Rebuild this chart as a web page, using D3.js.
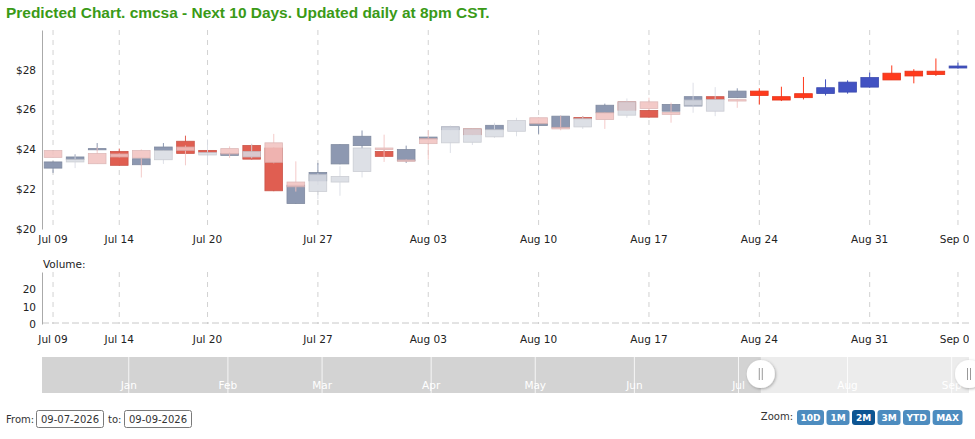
<!DOCTYPE html>
<html>
<head>
<meta charset="utf-8">
<script src="https://cdn.jsdelivr.net/npm/d3@7"></script>
<style>
html, body { margin: 0; padding: 0; background: #fff; overflow: hidden; }
svg { display: block; font-family: "DejaVu Sans", Verdana, sans-serif; }
</style>
</head>
<body>
<div id="chart"></div>
<script>
// trading days shown in the main panels
var historyDates = ["2026-07-09","2026-07-10","2026-07-13","2026-07-14","2026-07-15","2026-07-16","2026-07-17",
    "2026-07-20","2026-07-21","2026-07-22","2026-07-23","2026-07-24","2026-07-27","2026-07-28","2026-07-29",
    "2026-07-30","2026-07-31","2026-08-03","2026-08-04","2026-08-05","2026-08-06","2026-08-07","2026-08-10",
    "2026-08-11","2026-08-12","2026-08-13","2026-08-14","2026-08-17","2026-08-18","2026-08-19","2026-08-20",
    "2026-08-21"];
var forecastDates = ["2026-08-24","2026-08-25","2026-08-26","2026-08-27","2026-08-28","2026-08-31",
    "2026-09-01","2026-09-02","2026-09-03","2026-09-04"];

// [open, high, low, close]
var actual = [
    [23.06,23.40,22.82,23.37],[23.50,23.75,23.45,23.62],[23.98,24.32,23.95,24.04],[23.90,24.04,23.18,23.20],
    [23.23,23.55,23.20,23.53],[23.95,24.32,23.93,24.12],[24.41,24.69,23.78,23.80],[23.95,23.97,23.84,23.85],
    [23.70,23.85,23.66,23.80],[24.20,24.24,23.49,23.51],[24.07,24.10,21.90,21.92],[21.28,22.20,21.26,22.20],
    [22.42,23.32,22.40,22.84],[23.27,24.26,23.25,24.24],[24.19,24.95,24.05,24.66],[23.90,23.95,23.62,23.65],
    [23.43,24.19,23.32,23.99],[24.52,24.64,24.50,24.62],[24.99,25.15,24.97,25.13],[25.03,25.05,24.72,24.74],
    [24.99,25.25,24.97,25.21],null,[25.20,25.31,24.78,25.29],[25.11,25.69,25.09,25.67],
    [25.60,25.67,25.52,25.54],[25.84,26.30,25.82,26.22],[26.39,26.41,25.95,25.97],[25.96,26.00,25.60,25.62],
    [25.92,26.28,25.90,26.26],[26.18,26.67,26.16,26.65],[26.65,26.68,26.49,26.51],[26.60,27.07,26.58,26.93]
];
var predicted = [
    [23.94,23.96,23.58,23.60],[23.37,23.77,23.06,23.50],[23.79,24.10,23.27,23.28],[23.77,23.80,23.60,23.62],
    [23.94,24.00,22.59,23.57],[23.48,23.97,23.27,23.95],[24.12,24.20,23.20,23.95],[23.72,24.50,23.30,23.85],
    [24.04,24.15,23.57,23.77],[23.62,24.29,23.55,23.90],[24.33,24.78,23.30,23.35],[22.36,23.40,21.88,22.12],
    [21.88,22.80,21.50,22.73],[22.36,23.15,21.67,22.64],[22.89,24.07,22.59,24.07],[24.07,24.74,23.37,23.99],
    [23.47,23.50,23.38,23.40],[24.54,24.96,23.48,24.29],[24.33,25.20,23.82,25.13],[24.36,25.06,24.22,25.03],
    [24.63,25.34,24.58,24.99],[24.91,25.59,24.66,25.45],[25.59,25.62,25.27,25.29],[25.11,25.70,24.96,25.03],
    [25.13,25.67,25.03,25.54],[25.84,25.86,25.03,25.50],[25.72,26.56,25.59,26.39],[26.39,26.60,26.00,26.06],
    [25.86,26.35,25.34,25.76],[26.22,27.35,25.84,26.48],[25.92,27.13,25.67,26.51],[26.50,26.52,26.09,26.43]
];
var forecast = [
    [26.93,27.07,26.26,26.71],[26.65,27.15,26.43,26.48],[26.80,27.64,26.51,26.60],[26.81,27.52,26.71,27.10],
    [26.88,27.47,26.80,27.38],[27.13,27.86,27.10,27.61],[27.83,28.22,27.49,27.49],[27.93,28.03,27.32,27.69],
    [27.93,28.57,27.69,27.76],[28.09,28.36,28.06,28.19]
];
var volume = [0,0,0,0,0,0,0,0,0,0,0,0,0,0,0,0,0,0,0,0,0,0,0,0,0,0,0,0,0,0,0,0,0,0,0,0,0,0,0,0,0,0];

var priceTicks = [20, 22, 24, 26, 28];
var volumeTicks = [0, 10, 20];
var labelDates = ["2026-07-09","2026-07-14","2026-07-20","2026-07-27","2026-08-03","2026-08-10",
    "2026-08-17","2026-08-24","2026-08-31","2026-09-04"];

// navigator calendar
var navStart = "2025-12-08", navEnd = "2026-09-04";
var holidays = ["2025-12-25","2026-01-01","2026-01-19","2026-02-16","2026-04-03","2026-05-25","2026-06-19","2026-07-03"];

var titleText = "Predicted Chart. cmcsa - Next 10 Days. Updated daily at 8pm CST.";
var rangeFrom = "09-07-2026", rangeTo = "09-09-2026";
var zoomButtons = ["10D", "1M", "2M", "3M", "YTD", "MAX"];
var activeZoom = "2M";

var width = 975, height = 439;
var left = 42, right = 969;
var textColor = "#222";

var parse = d3.timeParse("%Y-%m-%d");
var fmtKey = d3.timeFormat("%Y-%m-%d");
var fmtTick = d3.timeFormat("%b %d");

var svg = d3.select("#chart").append("svg")
    .attr("width", width)
    .attr("height", height);

svg.append("rect").attr("width", width).attr("height", height).attr("fill", "#fff");

// title, shrunk to its width in the picture
var title = svg.append("text")
    .attr("x", 6).attr("y", 18)
    .style("font-family", "'Liberation Sans', Arial, sans-serif")
    .style("font-weight", "bold")
    .style("font-size", "15.5px")
    .attr("fill", "#3a9a17")
    .text(titleText);
var tl = title.node().getComputedTextLength();
title.style("font-size", (15.5 * 484 / tl) + "px");

var allDates = historyDates.concat(forecastDates);

var x = d3.scaleBand().domain(allDates).range([left, right]).padding(0);
var bw = x.bandwidth() * 0.8;

var yPrice = d3.scaleLinear().domain([20, 30]).range([229, 30]);
var yVol = d3.scaleLinear().domain([0, 30]).range([324, 272]);

var defs = svg.append("defs");
defs.append("clipPath").attr("id", "labelclip")
    .append("rect").attr("x", 0).attr("y", 0).attr("width", right).attr("height", height);

// ---- price panel ----
var price = svg.append("g");

price.selectAll(".vgrid")
    .data(labelDates)
    .enter().append("line")
    .attr("class", "vgrid")
    .attr("x1", function(d) { return x(d) + x.bandwidth() / 2; })
    .attr("x2", function(d) { return x(d) + x.bandwidth() / 2; })
    .attr("y1", yPrice.range()[1]).attr("y2", yPrice.range()[0])
    .attr("stroke", "#d2d2d2")
    .attr("stroke-dasharray", "5,5");

var yAxis = price.append("g")
    .attr("transform", "translate(" + left + ",0)")
    .call(d3.axisLeft(yPrice).tickValues(priceTicks).tickFormat(function(d) { return "$" + d; })
        .tickSize(0).tickSizeOuter(0).tickPadding(6));
yAxis.select(".domain").attr("stroke", "#aaa");
yAxis.selectAll("text").attr("fill", textColor).style("font-size", "10.5px")
    .style("font-family", "'DejaVu Sans', Verdana, sans-serif");

function xLabels(g, y0) {
    var ax = g.append("g")
        .attr("transform", "translate(0," + y0 + ")")
        .attr("clip-path", "url(#labelclip)")
        .call(d3.axisBottom(x).tickValues(labelDates)
            .tickFormat(function(d) { return fmtTick(parse(d)); })
            .tickSize(0).tickPadding(7));
    ax.select(".domain").remove();
    ax.selectAll("text").attr("fill", textColor).style("font-size", "10.5px")
        .style("font-family", "'DejaVu Sans', Verdana, sans-serif");
}
xLabels(price, 229);

function drawCandles(g, dates, data, upColor, downColor, alpha) {
    var layer = g.append("g").attr("opacity", alpha);
    var rows = data.map(function(d, i) { return {date: dates[i], v: d}; })
        .filter(function(d) { return d.v !== null; });

    var c = layer.selectAll("g.candle")
        .data(rows)
        .enter().append("g")
        .attr("class", "candle");

    c.append("line")
        .attr("x1", function(d) { return x(d.date) + x.bandwidth() / 2; })
        .attr("x2", function(d) { return x(d.date) + x.bandwidth() / 2; })
        .attr("y1", function(d) { return yPrice(d.v[1]); })
        .attr("y2", function(d) { return yPrice(d.v[2]); })
        .attr("stroke", function(d) { return d.v[3] >= d.v[0] ? upColor : downColor; })
        .attr("stroke-width", 1);

    c.append("rect")
        .attr("x", function(d) { return x(d.date) + (x.bandwidth() - bw) / 2; })
        .attr("width", bw)
        .attr("y", function(d) { return yPrice(Math.max(d.v[0], d.v[3])); })
        .attr("height", function(d) { return Math.max(1, Math.abs(yPrice(d.v[0]) - yPrice(d.v[3]))); })
        .attr("fill", function(d) { return d.v[3] >= d.v[0] ? upColor : downColor; })
        .attr("stroke", function(d) {
            return d3.color(d.v[3] >= d.v[0] ? upColor : downColor).darker(0.3);
        })
        .attr("stroke-width", 0.8);
}

drawCandles(price, historyDates, actual, "#8793ad", "#df5648", 0.95);
drawCandles(price, historyDates, predicted, "#d8dbe3", "#f2c2c0", 0.86);
drawCandles(price, forecastDates, forecast, "#4252c2", "#ff3a1c", 1);

// ---- volume panel ----
var vol = svg.append("g");

vol.append("text")
    .attr("x", 43).attr("y", 268)
    .attr("fill", textColor)
    .style("font-size", "10.5px")
    .text("Volume:");

vol.selectAll(".vgrid")
    .data(labelDates)
    .enter().append("line")
    .attr("class", "vgrid")
    .attr("x1", function(d) { return x(d) + x.bandwidth() / 2; })
    .attr("x2", function(d) { return x(d) + x.bandwidth() / 2; })
    .attr("y1", yVol.range()[1]).attr("y2", yVol.range()[0])
    .attr("stroke", "#d2d2d2")
    .attr("stroke-dasharray", "5,5");

vol.append("line")
    .attr("x1", left).attr("x2", right)
    .attr("y1", yVol(0) - 1).attr("y2", yVol(0) - 1)
    .attr("stroke", "#c8c8c8")
    .attr("stroke-dasharray", "7,3");

vol.selectAll(".vbar")
    .data(volume)
    .enter().append("rect")
    .attr("class", "vbar")
    .attr("x", function(d, i) { return x(allDates[i]) + (x.bandwidth() - bw) / 2; })
    .attr("width", bw)
    .attr("y", function(d) { return yVol(d); })
    .attr("height", function(d) { return yVol(0) - yVol(d); })
    .attr("fill", "#8793ad");

var vAxis = vol.append("g")
    .attr("transform", "translate(" + left + ",0)")
    .call(d3.axisLeft(yVol).tickValues(volumeTicks).tickSize(0).tickSizeOuter(0).tickPadding(6));
vAxis.select(".domain").attr("stroke", "#aaa");
vAxis.selectAll("text").attr("fill", textColor).style("font-size", "10.5px")
    .style("font-family", "'DejaVu Sans', Verdana, sans-serif");

xLabels(vol, 329);

// ---- navigator ----
var holidaySet = new Set(holidays);
var navDays = d3.timeDay.range(parse(navStart), d3.timeDay.offset(parse(navEnd), 1))
    .filter(function(d) { return d.getDay() % 6 !== 0 && !holidaySet.has(fmtKey(d)); })
    .map(fmtKey);
var xNav = d3.scaleBand().domain(navDays).range([left, right]).padding(0);
var navTop = 357, navBottom = 393;
var monthStarts = navDays.filter(function(d, i) {
    return i > 0 && parse(d).getMonth() !== parse(navDays[i - 1]).getMonth();
});

var nav = svg.append("g");
nav.append("rect")
    .attr("x", left).attr("y", navTop)
    .attr("width", right - left).attr("height", navBottom - navTop)
    .attr("fill", "#d3d3d3");

var selStart = xNav(allDates[0]);
nav.append("rect")
    .attr("x", selStart).attr("y", navTop)
    .attr("width", right - selStart).attr("height", navBottom - navTop)
    .attr("fill", "#ececec");

nav.selectAll(".mline")
    .data(monthStarts)
    .enter().append("line")
    .attr("class", "mline")
    .attr("x1", function(d) { return xNav(d) + xNav.bandwidth() / 2; })
    .attr("x2", function(d) { return xNav(d) + xNav.bandwidth() / 2; })
    .attr("y1", navTop).attr("y2", navBottom)
    .attr("stroke", "#fff")
    .attr("stroke-opacity", 0.8);

nav.selectAll(".mlabel")
    .data(monthStarts)
    .enter().append("text")
    .attr("class", "mlabel")
    .attr("x", function(d) { return xNav(d) + xNav.bandwidth() / 2; })
    .attr("y", 389)
    .attr("text-anchor", "middle")
    .attr("fill", "#fff")
    .style("font-size", "10.5px")
    .text(function(d) { return d3.timeFormat("%b")(parse(d)); });

var shadow = defs.append("filter").attr("id", "hshadow")
    .attr("x", "-50%").attr("y", "-50%").attr("width", "200%").attr("height", "200%");
shadow.append("feDropShadow").attr("dx", 1).attr("dy", 1).attr("stdDeviation", 1.5)
    .attr("flood-color", "#000").attr("flood-opacity", 0.3);

var handles = nav.selectAll(".handle")
    .data([selStart, right])
    .enter().append("g")
    .attr("class", "handle")
    .attr("transform", function(d) { return "translate(" + d + "," + ((navTop + navBottom) / 2 - 1) + ")"; });
handles.append("circle").attr("r", 14).attr("fill", "#fff").attr("filter", "url(#hshadow)");
handles.selectAll(".grip")
    .data([-1.5, 1.5])
    .enter().append("line")
    .attr("x1", function(d) { return d; }).attr("x2", function(d) { return d; })
    .attr("y1", -6).attr("y2", 6)
    .attr("stroke", "#999");

// ---- range inputs ----
var ctl = svg.append("g").style("font-size", "10px").attr("fill", "#333");
ctl.append("text").attr("x", 6).attr("y", 423).text("From:");

function inputBox(x0, label) {
    ctl.append("rect")
        .attr("x", x0 + 0.5).attr("y", 410.5)
        .attr("width", 67).attr("height", 17)
        .attr("rx", 2)
        .attr("fill", "#fff").attr("stroke", "#7a7a7a");
    ctl.append("text")
        .attr("x", x0 + 34).attr("y", 423)
        .attr("text-anchor", "middle")
        .text(label);
}
inputBox(36, rangeFrom);
ctl.append("text").attr("x", 108).attr("y", 423).text("to:");
inputBox(124, rangeTo);

// ---- zoom buttons ----
ctl.append("text").attr("x", 793).attr("y", 420).attr("text-anchor", "end").text("Zoom:");

var bx = 797;
zoomButtons.forEach(function(b) {
    var g = ctl.append("g");
    var r = g.append("rect").attr("y", 410).attr("height", 15).attr("rx", 3)
        .attr("fill", b === activeZoom ? "#0d5592" : "#4d8cbf");
    var t = g.append("text")
        .attr("y", 421)
        .attr("text-anchor", "middle")
        .attr("fill", "#fff")
        .style("font-weight", "bold")
        .style("font-size", "9px")
        .text(b);
    var w = Math.max(23, t.node().getComputedTextLength() + 7);
    r.attr("x", bx).attr("width", w);
    t.attr("x", bx + w / 2);
    bx += w + 2.5;
});
</script>
</body>
</html>
